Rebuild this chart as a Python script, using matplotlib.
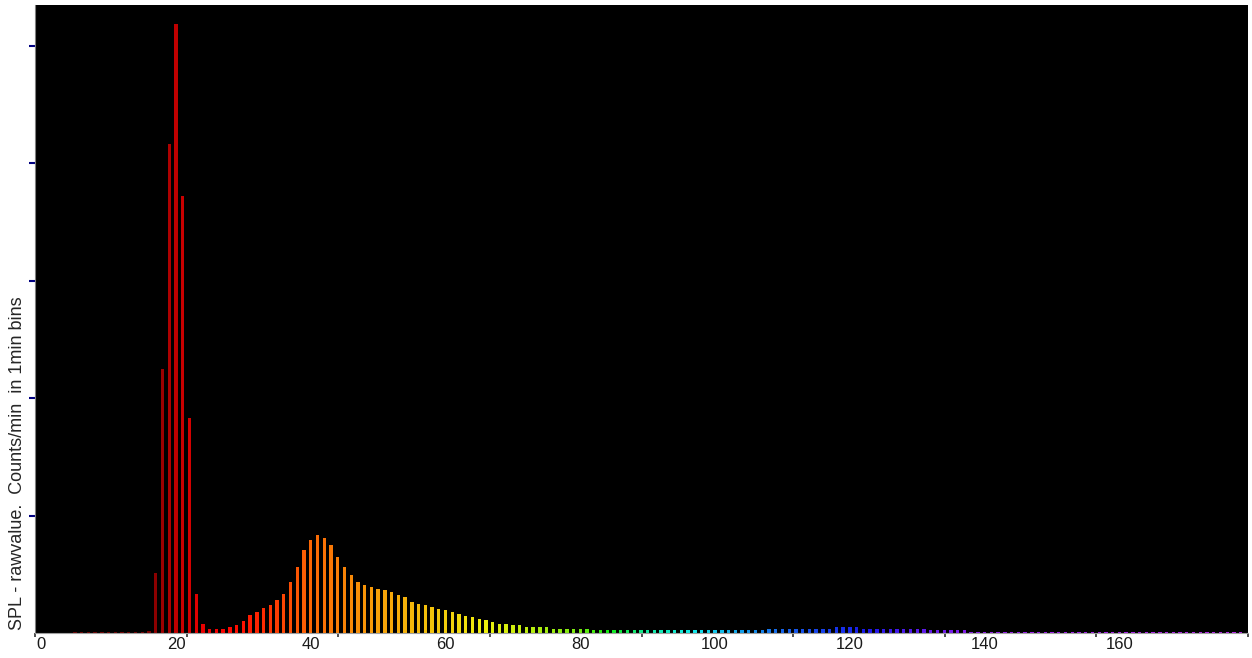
import numpy as np
import matplotlib
matplotlib.use('Agg')
import matplotlib.pyplot as plt
from matplotlib.colors import hsv_to_rgb

plt.rcParams['font.family'] = ['Liberation Sans', 'DejaVu Sans']

# .. counts per raw SPL value (bins 0..178)
counts = [
    0, 0, 0, 0, 0, 0.8, 0.8, 0.8, 0.8, 0.8,
    0.8, 0.8, 0.8, 0.8, 0.8, 1, 2, 51, 225, 416,
    518, 372, 183, 33, 8, 3.4, 3.4, 3.7, 4.8, 7,
    10.5, 15, 18, 21, 24, 28, 33.5, 43.4, 56.2, 70.4,
    78.9, 83.4, 80.6, 74.9, 64.7, 56.2, 49.1, 43.4, 40.6, 39.1,
    37.7, 36.3, 34.9, 32.1, 30.6, 26.4, 25, 23.5, 22.1, 20.7,
    19.3, 17.9, 16.5, 14.8, 13.6, 12.2, 10.8, 9.4, 8, 8,
    6.5, 6.5, 5.1, 5.1, 5.1, 5.1, 3.7, 3.7, 3.7, 3.7,
    3.7, 3.7, 2.2, 2.2, 2.2, 2.2, 2.2, 2.2, 2.2, 2.2,
    2.2, 2.2, 2.2, 2.2, 2.2, 2.2, 2.2, 2.2, 2.2, 2.2,
    2.2, 2.2, 2.2, 2.2, 2.2, 2.2, 2.2, 2.2, 3.4, 3.4,
    3.4, 3.4, 3.4, 3.4, 3.4, 3.4, 3.4, 3.4, 5.1, 5.1,
    5.1, 5.1, 3.4, 3.4, 3.4, 3.4, 3.4, 3.4, 3.4, 3.4,
    3.4, 3.4, 2.2, 2.2, 2.2, 2.2, 2.2, 2.2, 0.8, 0.8,
    0.8, 0.8, 0.8, 0.8, 0.8, 0.8, 0.8, 0.8, 0.8, 0.8,
    0.8, 0.8, 0.8, 0.8, 0.8, 0.8, 0.8, 0.8, 0.8, 0.8,
    0.8, 0.8, 0.8, 0.8, 0.8, 0.8, 0.8, 0.8, 0.8, 0.8,
    0.8, 0.8, 0.8, 0.8, 0.8, 0.8, 0.8, 0.8, 0.8,
]
bins = np.arange(len(counts))
xtick_vals = [0, 20, 40, 60, 80, 100, 120, 140, 160]
ytick_vals = [100, 200, 300, 400, 500]
ylabel = 'SPL - rawvalue.  Counts/min  in 1min bins'


# .. rainbow colouring by bin, dark reds at the low end
def bar_colour(i):
    hue = np.interp(i, [0, 26, 30, 35, 40, 50, 60, 70, 80, 90, 100, 110, 120, 130, 140, 178],
                    [0, 0, 4, 14, 24, 38, 50, 68, 92, 160, 190, 218, 235, 258, 275, 285])
    sat = np.interp(i, [0, 30, 60, 178], [1.0, 1.0, 0.95, 0.85])
    val = np.interp(i, [0, 15, 16, 17, 20, 23, 28, 60, 80], [0.4, 0.45, 0.5, 0.55, 0.75, 0.88, 1.0, 0.95, 0.92])
    return hsv_to_rgb([hue / 360.0, sat, val])


colours = [bar_colour(i) for i in bins]

fig = plt.figure(figsize=(12.52, 6.58), dpi=100)
ax = fig.add_axes([35 / 1252, 25 / 658, 1213 / 1252, 628 / 658])
ax.set_facecolor('black')

ax.bar(bins, counts, width=0.5, color=colours, linewidth=0)

xmin, xmax = -0.92, 179.08
ax.set_xlim(xmin, xmax)
ax.set_ylim(0, 534.5)

# .. x labels without marks, small marks spread evenly along the axis
ax.set_xticks(xtick_vals)
ax.set_xticklabels([str(v) for v in xtick_vals], fontsize=12, color='#1a1a1a')
ax.tick_params(axis='x', which='major', length=0, pad=3)
ax.set_xticks(np.linspace(xmin, xmax, 9), minor=True)
ax.tick_params(axis='x', which='minor', length=3, width=1.2, color='#303030', direction='out')

ax.set_yticks(ytick_vals)
ax.set_yticklabels([])
ax.tick_params(axis='y', length=4, width=1.5, color='#000080', direction='out')

for side in ['top', 'right']:
    ax.spines[side].set_visible(False)
ax.spines['left'].set_color('#808080')
ax.spines['bottom'].set_color('#a0a0a0')

fig.text(18 / 1252, 28 / 658, ylabel, rotation=90, va='bottom', ha='center',
         fontsize=13, color='#262626')

fig.savefig('out.png', dpi=100, facecolor='white')
